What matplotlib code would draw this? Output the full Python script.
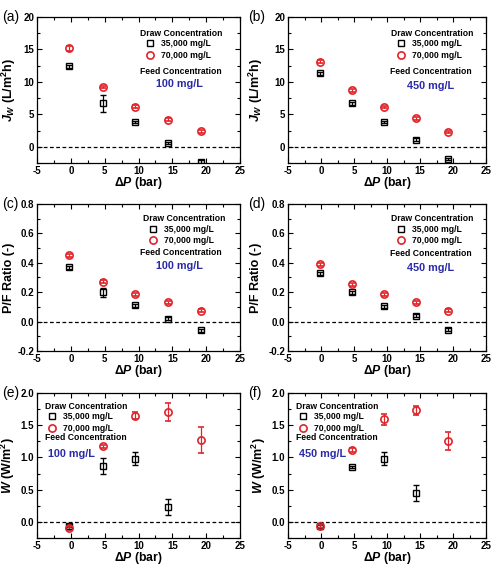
import matplotlib
matplotlib.use('Agg')
import matplotlib.pyplot as plt
from matplotlib.lines import Line2D
from matplotlib.ticker import MultipleLocator, FuncFormatter

plt.rcParams['font.family'] = ['Liberation Sans', 'DejaVu Sans']
plt.rcParams['mathtext.fontset'] = 'custom'
plt.rcParams['mathtext.it'] = 'Liberation Sans:italic:bold'
plt.rcParams['mathtext.rm'] = 'Liberation Sans:bold'
plt.rcParams['mathtext.bf'] = 'Liberation Sans:bold'

# pressure points (bar)
dp = [-0.2, 4.7, 9.5, 14.4, 19.3]

# (a) / (b) water flux, L/m2h
jw_100_35 = [12.4, 6.7, 3.8, 0.6, -2.3]
jw_100_35_err = [0.2, 1.3, 0.2, 0.2, 0.2]
jw_100_70 = [15.2, 9.2, 6.2, 4.2, 2.4]
jw_100_70_err = [0.4, 0.2, 0.2, 0.2, 0.2]
jw_450_35 = [11.3, 6.7, 3.8, 1.1, -1.9]
jw_450_35_err = [0.2, 0.2, 0.2, 0.2, 0.2]
jw_450_70 = [13.1, 8.7, 6.1, 4.4, 2.3]
jw_450_70_err = [0.2, 0.2, 0.2, 0.2, 0.2]

# (c) / (d) P/F ratio
pf_100_35 = [0.37, 0.20, 0.11, 0.02, -0.06]
pf_100_35_err = [0.01, 0.03, 0.01, 0.01, 0.01]
pf_100_70 = [0.45, 0.27, 0.185, 0.13, 0.075]
pf_100_70_err = [0.01, 0.01, 0.01, 0.01, 0.01]
pf_450_35 = [0.33, 0.20, 0.105, 0.04, -0.055]
pf_450_35_err = [0.01, 0.01, 0.01, 0.01, 0.01]
pf_450_70 = [0.39, 0.255, 0.185, 0.13, 0.075]
pf_450_70_err = [0.01, 0.01, 0.01, 0.01, 0.01]

# (e) / (f) power density, W/m2 (no 35,000 point at the highest pressure)
w_dp35 = [-0.2, 4.7, 9.5, 14.4]
w_100_35 = [-0.06, 0.87, 0.98, 0.23]
w_100_35_err = [0.02, 0.12, 0.10, 0.13]
w_100_70 = [-0.10, 1.17, 1.65, 1.70, 1.27]
w_100_70_err = [0.02, 0.03, 0.05, 0.14, 0.20]
w_450_35 = [-0.07, 0.85, 0.98, 0.45]
w_450_35_err = [0.02, 0.02, 0.10, 0.13]
w_450_70 = [-0.07, 1.11, 1.59, 1.73, 1.25]
w_450_70_err = [0.02, 0.03, 0.08, 0.07, 0.14]

panels = [
    ('(a)', dp, jw_100_35, jw_100_35_err, dp, jw_100_70, jw_100_70_err, '100 mg/L', 'jw'),
    ('(b)', dp, jw_450_35, jw_450_35_err, dp, jw_450_70, jw_450_70_err, '450 mg/L', 'jw'),
    ('(c)', dp, pf_100_35, pf_100_35_err, dp, pf_100_70, pf_100_70_err, '100 mg/L', 'pf'),
    ('(d)', dp, pf_450_35, pf_450_35_err, dp, pf_450_70, pf_450_70_err, '450 mg/L', 'pf'),
    ('(e)', w_dp35, w_100_35, w_100_35_err, dp, w_100_70, w_100_70_err, '100 mg/L', 'w'),
    ('(f)', w_dp35, w_450_35, w_450_35_err, dp, w_450_70, w_450_70_err, '450 mg/L', 'w'),
]

ylims = {'jw': (-2.5, 20), 'pf': (-0.2, 0.8), 'w': (-0.25, 2.0)}
ymajor = {'jw': 5, 'pf': 0.2, 'w': 0.5}
yfmt = {'jw': '{:.0f}', 'pf': '{:.1f}', 'w': '{:.1f}'}
ylabels = {'jw': r'$J_W$ (L/m$^2$h)', 'pf': 'P/F Ratio (-)', 'w': r'$W$ (W/m$^2$)'}
ylabel_x = [-0.095, -0.115, -0.11, -0.13, -0.098, -0.10]

# annotation layout per panel (axes fractions):
# title x, title y, marker x, row1 y, row2 y, feed x, feed y, value x, value y, align
notes = [
    (0.507, 0.89, 0.557, 0.815, 0.74, 0.71, 0.63, 0.70, 0.54, 'center'),
    (0.52, 0.89, 0.57, 0.815, 0.74, 0.72, 0.63, 0.72, 0.53, 'center'),
    (0.52, 0.90, 0.57, 0.83, 0.76, 0.71, 0.667, 0.70, 0.58, 'center'),
    (0.52, 0.90, 0.57, 0.83, 0.76, 0.72, 0.66, 0.72, 0.565, 'center'),
    (0.04, 0.91, 0.075, 0.84, 0.77, 0.04, 0.69, 0.055, 0.58, 'left'),
    (0.04, 0.91, 0.075, 0.84, 0.77, 0.04, 0.69, 0.055, 0.58, 'left'),
]

red = '#e0242b'
blue = '#2a2aa8'

fig = plt.figure(figsize=(4.94, 5.66), dpi=100)
W, H = 494.0, 566.0
lefts = [37, 288]
widths = [203, 198]
tops = [17, 204, 393]
heights = [146, 147, 145]
tag_x = [2, 248]
fs = 6.2

for i, (tag, x1, y1, e1, x2, y2, e2, feed, kind) in enumerate(panels):
    r, c = divmod(i, 2)
    ax = fig.add_axes([lefts[c] / W, 1 - (tops[r] + heights[r]) / H,
                       widths[c] / W, heights[r] / H])
    ax.axhline(0, color='black', ls=(0, (3, 2)), lw=0.9, zorder=1)
    ax.errorbar(x1, y1, yerr=e1, fmt='s', ms=4.2, mfc='none', mec='black',
                mew=1.0, ecolor='black', elinewidth=0.9, capsize=2.2, zorder=3)
    ax.errorbar(x2, y2, yerr=e2, fmt='o', ms=5.2, mfc='none', mec=red,
                mew=1.2, ecolor=red, elinewidth=0.9, capsize=2.2, zorder=3)
    ax.set_xlim(-5, 25)
    ax.set_ylim(*ylims[kind])
    ax.xaxis.set_major_locator(MultipleLocator(5))
    ax.xaxis.set_minor_locator(MultipleLocator(2.5))
    ax.yaxis.set_major_locator(MultipleLocator(ymajor[kind]))
    ax.yaxis.set_minor_locator(MultipleLocator(ymajor[kind] / 2))
    ax.xaxis.set_major_formatter(FuncFormatter(lambda v, p: '{:.0f}'.format(v + 0.0)))
    ax.yaxis.set_major_formatter(FuncFormatter(
        lambda v, p, f=yfmt[kind]: f.format(v + 0.0)))
    ax.tick_params(which='both', direction='in', top=True, right=True,
                   labelsize=7, width=0.8, pad=2)
    ax.tick_params(which='major', length=3.5)
    ax.tick_params(which='minor', length=2)
    for lab in ax.get_xticklabels() + ax.get_yticklabels():
        lab.set_fontweight('bold')
    for s in ax.spines.values():
        s.set_linewidth(0.9)
    ax.set_xlabel('Δ$P$ (bar)', fontsize=8.8, fontweight='bold', labelpad=-0.5)
    ax.set_ylabel(ylabels[kind], fontsize=9, fontweight='bold')
    ax.yaxis.set_label_coords(ylabel_x[i], 0.5)
    fig.text(tag_x[c] / W, 1 - tops[r] / H, tag, fontsize=10, va='center', ha='left')

    tx, ty, mx, r1, r2, fx, fy, vx, vy, ha = notes[i]
    ax.text(tx, ty, 'Draw Concentration', transform=ax.transAxes, fontsize=fs,
            fontweight='bold', ha='left', va='center')
    handles = [Line2D([], [], ls='none', marker='s', ms=4.2, mfc='none', mec='black', mew=1.0),
               Line2D([], [], ls='none', marker='o', ms=5.2, mfc='none', mec=red, mew=1.2)]
    hl = 0.8
    half = hl * fs / 2 / 72 * 100 / (widths[c])
    row_h = (r1 - r2)
    ax.legend(handles, ['35,000 mg/L', '70,000 mg/L'], loc='upper left',
              bbox_to_anchor=(mx - half, r1 + row_h * 0.42), frameon=False,
              prop={'size': fs, 'weight': 'bold'},
              handlelength=hl, handletextpad=0.9, labelspacing=0.3,
              borderpad=0, borderaxespad=0)
    ax.text(fx, fy, 'Feed Concentration', transform=ax.transAxes, fontsize=fs,
            fontweight='bold', ha=ha, va='center')
    ax.text(vx, vy, feed, transform=ax.transAxes,
            fontsize=7.8, fontweight='bold', color=blue, ha=ha, va='center')

fig.savefig('out.png', dpi=100)
